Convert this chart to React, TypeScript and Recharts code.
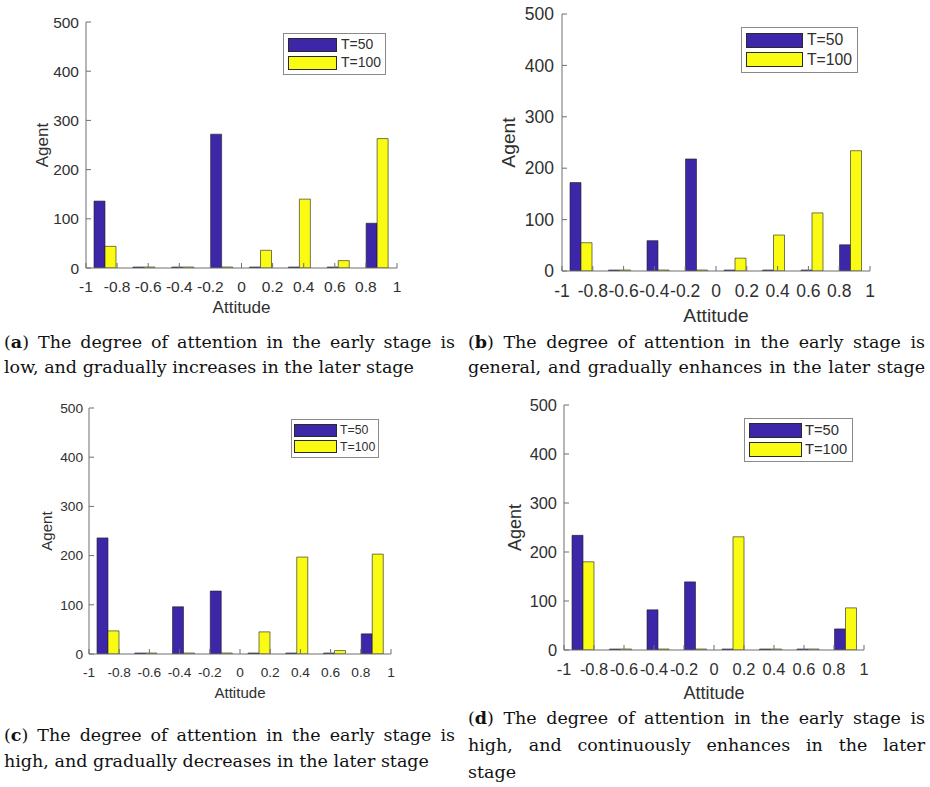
import React from 'react';
import { BarChart, Bar, XAxis, YAxis, Legend } from 'recharts';

// ---- data ----
const attitudeBins = [-0.875, -0.625, -0.375, -0.125, 0.125, 0.375, 0.625, 0.875];
const xTicks = [-1, -0.8, -0.6, -0.4, -0.2, 0, 0.2, 0.4, 0.6, 0.8, 1];
const yTicks = [0, 100, 200, 300, 400, 500];
const seriesNames = ['T=50', 'T=100'];

const aT50 = [136, 0, 0, 272, 0, 0, 0, 91];
const aT100 = [44, 0, 0, 0, 36, 140, 15, 263];
const bT50 = [172, 0, 59, 218, 0, 0, 0, 51];
const bT100 = [55, 0, 0, 0, 25, 70, 113, 234];
const cT50 = [236, 0, 96, 128, 0, 0, 0, 41];
const cT100 = [47, 0, 0, 0, 45, 197, 7, 203];
const dT50 = [234, 0, 82, 139, 0, 0, 0, 43];
const dT100 = [180, 0, 0, 0, 231, 0, 0, 86];

const captionA = ['The degree of attention in the early stage is', 'low, and gradually increases in the later stage'];
const captionB = ['The degree of attention in the early stage is', 'general, and gradually enhances in the later stage'];
const captionC = ['The degree of attention in the early stage is', 'high, and gradually decreases in the later stage'];
const captionD = ['The degree of attention in the early stage is', 'high, and continuously enhances in the later', 'stage'];

// ---- styles / layout ----
const BLUE = '#3d27a8';
const YELLOW = '#f9fb12';
const AXIS = '#6e6e6e';
const TEXT = '#303030';
const SANS = '"Liberation Sans", Arial, Helvetica, sans-serif';
const SERIF = '"DejaVu Serif", serif';

type Panel = {
  key: string; t50: number[]; t100: number[];
  L: number; R: number; T: number; B: number; agentX: number; attY: number;
  fs: number; xOff: number; yGap: number;
  lx: number; ly: number; lw: number; lh: number; sw: number; sh: number; spad: number; tgap: number;
};

const panels: Panel[] = [
  { key: 'a', t50: aT50, t100: aT100, L: 86, R: 397, T: 22, B: 268, agentX: 42, attY: 307, fs: 15.5, xOff: 18, yGap: 7,
    lx: 283, ly: 33, lw: 103, lh: 42, sw: 49, sh: 14, spad: 5, tgap: 4 },
  { key: 'b', t50: bT50, t100: bT100, L: 562, R: 870, T: 14, B: 271, agentX: 508, attY: 315, fs: 17.5, xOff: 20, yGap: 8,
    lx: 741, ly: 27, lw: 117, lh: 46, sw: 57, sh: 15, spad: 5, tgap: 4 },
  { key: 'c', t50: cT50, t100: cT100, L: 89, R: 391, T: 408, B: 654, agentX: 47, attY: 693, fs: 13.7, xOff: 18, yGap: 6,
    lx: 291, ly: 419, lw: 88, lh: 39, sw: 43, sh: 13, spad: 3, tgap: 3 },
  { key: 'd', t50: dT50, t100: dT100, L: 564, R: 864, T: 405, B: 650, agentX: 515, attY: 693, fs: 16.4, xOff: 19, yGap: 7,
    lx: 744, ly: 418, lw: 109, lh: 44, sw: 53, sh: 15, spad: 5, tgap: 3 },
];

const TICK = 5;

function makeLegend(p: Panel) {
  return (props: any) => {
    const payload = [...(props.payload || [])].sort(
      (u: any, v: any) => seriesNames.indexOf(u.value) - seriesNames.indexOf(v.value));
    return (
      <div style={{
        width: p.lw, height: p.lh, boxSizing: 'border-box', border: '1px solid #8a8a8a', background: '#fff',
        display: 'flex', flexDirection: 'column', justifyContent: 'space-evenly', paddingLeft: p.spad - 1,
      }}>
        {payload.map((e: any) => (
          <div key={e.value} style={{ display: 'flex', alignItems: 'center', height: p.sh }}>
            <span style={{ display: 'inline-block', width: p.sw, height: p.sh, background: e.color, border: '1px solid #2a2a2a', boxSizing: 'border-box' }} />
            <span style={{ marginLeft: p.tgap, fontSize: p.fs * 0.9, color: TEXT, lineHeight: 1, fontFamily: SANS }}>{e.value}</span>
          </div>
        ))}
      </div>
    );
  };
}

function PanelChart({ p }: { p: Panel }) {
  const wy = 2 * (p.L - p.agentX);
  const cl = p.L - wy;
  const ct = p.T - 10;
  const width = p.R - cl + 10;
  const hx = 2 * (p.attY - p.B);
  const height = p.B + hx - ct;
  const data = attitudeBins.map((x, i) => ({ x, t50: p.t50[i], t100: p.t100[i] }));
  const xTickMargin = p.xOff - 0.352 * p.fs + TICK;
  const yTickMargin = p.yGap + TICK;
  return (
    <div style={{ position: 'absolute', left: cl, top: ct }}>
      <BarChart width={width} height={height} data={data} barGap={0}
        margin={{ top: 10, right: 10, bottom: 0, left: 0 }} style={{ fontFamily: SANS }}>
        <XAxis xAxisId="b" type="number" dataKey="x" domain={[-1, 1]} ticks={xTicks} interval={0} allowDataOverflow
          height={hx} tickSize={-TICK} tickMargin={xTickMargin}
          axisLine={{ stroke: AXIS }} tickLine={{ stroke: AXIS }}
          tick={{ fill: TEXT, fontSize: p.fs }}
          label={{ value: 'Attitude', position: 'center', fill: TEXT, fontSize: p.fs * 1.1 }} />
        <XAxis xAxisId="t" orientation="top" type="number" domain={[-1, 1]} ticks={xTicks} interval={0} allowDataOverflow
          height={0} tickSize={-TICK} tick={false} axisLine={{ stroke: AXIS }} tickLine={{ stroke: AXIS }} />
        <YAxis yAxisId="l" type="number" domain={[0, 500]} ticks={yTicks} interval={0} allowDataOverflow
          width={wy} tickSize={-TICK} tickMargin={yTickMargin}
          axisLine={{ stroke: AXIS }} tickLine={{ stroke: AXIS }}
          tick={{ fill: TEXT, fontSize: p.fs }}
          label={{ value: 'Agent', angle: -90, position: 'center', fill: TEXT, fontSize: p.fs * 1.1 }} />
        <YAxis yAxisId="r" orientation="right" type="number" domain={[0, 500]} ticks={yTicks} interval={0} allowDataOverflow
          width={0} tickSize={-TICK} tick={false} axisLine={{ stroke: AXIS }} tickLine={{ stroke: AXIS }} />
        <Legend layout="vertical" align="center" verticalAlign="middle" content={makeLegend(p)}
          wrapperStyle={{ left: p.lx - cl, top: p.ly - ct, width: p.lw, height: p.lh }} />
        <Bar xAxisId="b" yAxisId="l" dataKey="t50" name={seriesNames[0]} fill={BLUE} stroke="#1e1e1e" strokeWidth={0.6}
          barSize={11} minPointSize={1} isAnimationActive={false} />
        <Bar xAxisId="b" yAxisId="l" dataKey="t100" name={seriesNames[1]} fill={YELLOW} stroke="#1e1e1e" strokeWidth={0.6}
          barSize={11} minPointSize={1} isAnimationActive={false} />
      </BarChart>
    </div>
  );
}

function Caption({ letter, lines, justify, left, top, width, lineHeight }:
  { letter: string; lines: string[]; justify: boolean[]; left: number; top: number; width: number; lineHeight: number }) {
  return (
    <div style={{ position: 'absolute', left, top, width, fontFamily: SERIF, fontSize: 17.5, color: '#111', lineHeight: `${lineHeight}px` }}>
      {lines.map((ln, i) => (
        <div key={i} style={{ whiteSpace: 'nowrap', textAlign: justify[i] ? 'justify' : 'left', textAlignLast: justify[i] ? 'justify' : 'left' } as any}>
          {i === 0 ? <>(<b>{letter}</b>) {ln}</> : ln}
        </div>
      ))}
    </div>
  );
}

export default function App() {
  return (
    <div style={{ position: 'absolute', left: 0, top: 0, width: 930, height: 787, background: '#fff', overflow: 'hidden' }}>
      {panels.map((p) => <PanelChart key={p.key} p={p} />)}
      <Caption letter="a" lines={captionA} justify={[true, false]} left={4} top={330} width={451} lineHeight={25} />
      <Caption letter="b" lines={captionB} justify={[true, true]} left={468} top={330} width={457} lineHeight={25} />
      <Caption letter="c" lines={captionC} justify={[true, false]} left={4} top={722} width={451} lineHeight={26} />
      <Caption letter="d" lines={captionD} justify={[true, true, false]} left={468} top={705} width={457} lineHeight={27} />
    </div>
  );
}
